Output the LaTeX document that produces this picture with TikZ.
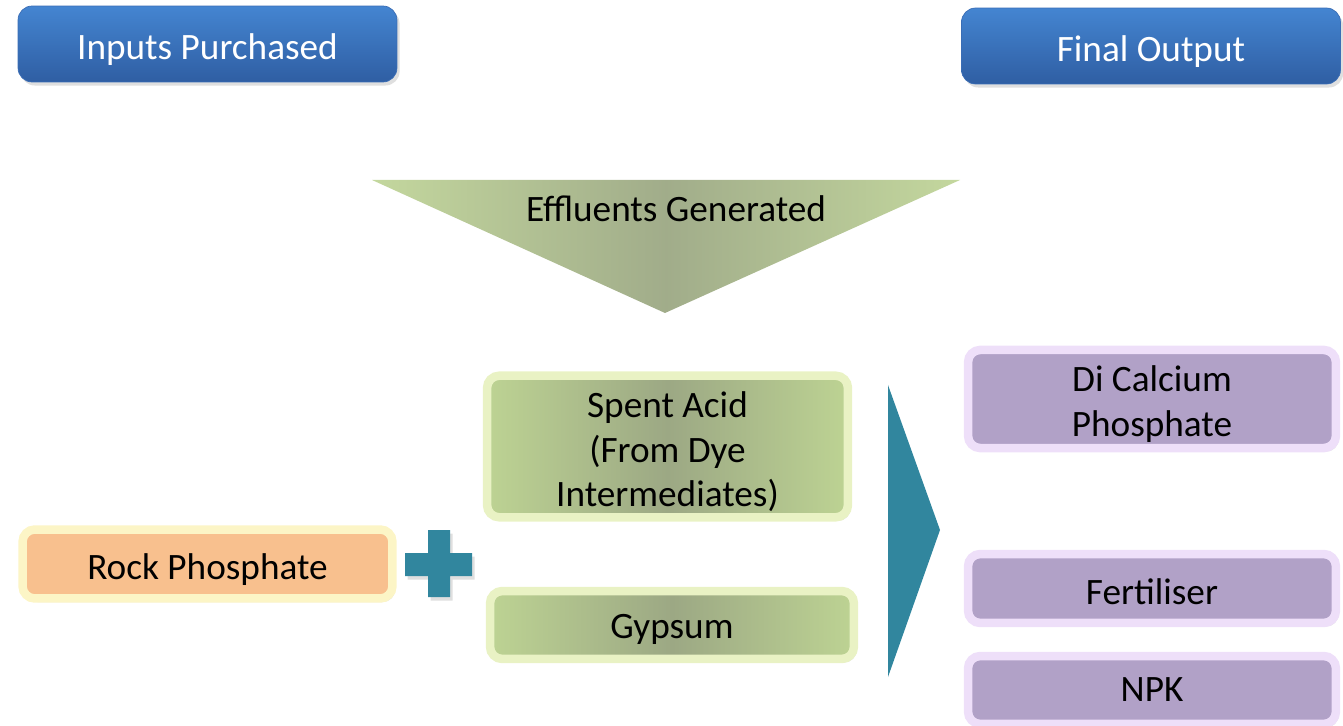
\documentclass[tikz,border=0pt]{standalone}
\usepackage{fontspec}
\setmainfont{Carlito}
\usepackage{tikz}
\usetikzlibrary{shadows}
\definecolor{hdrtop}{HTML}{4485D1}
\definecolor{hdrbot}{HTML}{2F5EA3}
\definecolor{hdrline}{HTML}{3A6DB5}
\definecolor{rockfill}{HTML}{F8C08E}
\definecolor{rockglow}{HTML}{FCF5C6}
\definecolor{greenedge}{HTML}{BDD393}
\definecolor{greenmid}{HTML}{9CA884}
\definecolor{greenglow}{HTML}{E9F2C4}
\definecolor{purpfill}{HTML}{B1A1C7}
\definecolor{purpglow}{HTML}{EEDFF9}
\definecolor{plusteal}{HTML}{31869E}
\newcommand\topstrut{\rule{0pt}{20.6pt}}
\tikzset{
  softshadow/.style={drop shadow={shadow xshift=1.5pt, shadow yshift=-2pt, opacity=0.25}},
  header/.style={rounded corners=8pt, draw=hdrline, top color=hdrtop, bottom color=hdrbot,
    text=white, minimum width=7.58cm, minimum height=1.52cm, softshadow},
  glowbox/.style={rounded corners=7pt, line width=0.17cm, align=center, softshadow},
  rockbox/.style={glowbox, draw=rockglow, fill=rockfill},
  acidbox/.style={glowbox, draw=greenglow, left color=greenedge, right color=greenedge, middle color=greenmid},
  outbox/.style={glowbox, draw=purpglow, fill=purpfill, minimum width=7.36cm},
}
\begin{document}
\begin{tikzpicture}[x=0.02cm, y=-0.02cm, font=\fontsize{21.2}{25.2}\selectfont]
  \useasboundingbox (0,0) rectangle (1343,726);
  \node[header] (inputs) at (207.5,44) {\topstrut Inputs Purchased};
  \node[header] (final) at (1151,46) {\topstrut Final Output};
  \shade[left color=greenedge!90!white, right color=greenedge!90!white, middle color=greenmid!95!white]
    (372,180) -- (960,180) -- (665,313) -- cycle;
  \node (effl) at (676,209) {Effluents Generated};
  \node[rockbox, minimum width=7.4cm, minimum height=1.38cm] (rock) at (207.5,564) {\topstrut Rock Phosphate};
  \fill[plusteal, softshadow] (428,530) rectangle (450,597) (405,553) rectangle (472,576);
  \node[acidbox, minimum width=7.22cm, minimum height=2.7cm] (acid) at (667.5,446.5)
    {\topstrut Spent Acid\\(From Dye\\Intermediates)};
  \node[acidbox, minimum width=7.28cm, minimum height=1.36cm] (gyp) at (672,625) {\rule{0pt}{18.8pt}Gypsum};
  \fill[plusteal] (888,385) -- (940,530) -- (888,677) -- cycle;
  \node[outbox, minimum height=1.8cm] (dcp) at (1152,399) {\topstrut Di Calcium\\Phosphate};
  \node[outbox, minimum height=1.38cm] (fert) at (1152,588.5) {\rule{0pt}{17.8pt}Fertiliser};
  \node[outbox, minimum height=1.36cm] (npk) at (1152,690) {NPK};
\end{tikzpicture}
\end{document}
